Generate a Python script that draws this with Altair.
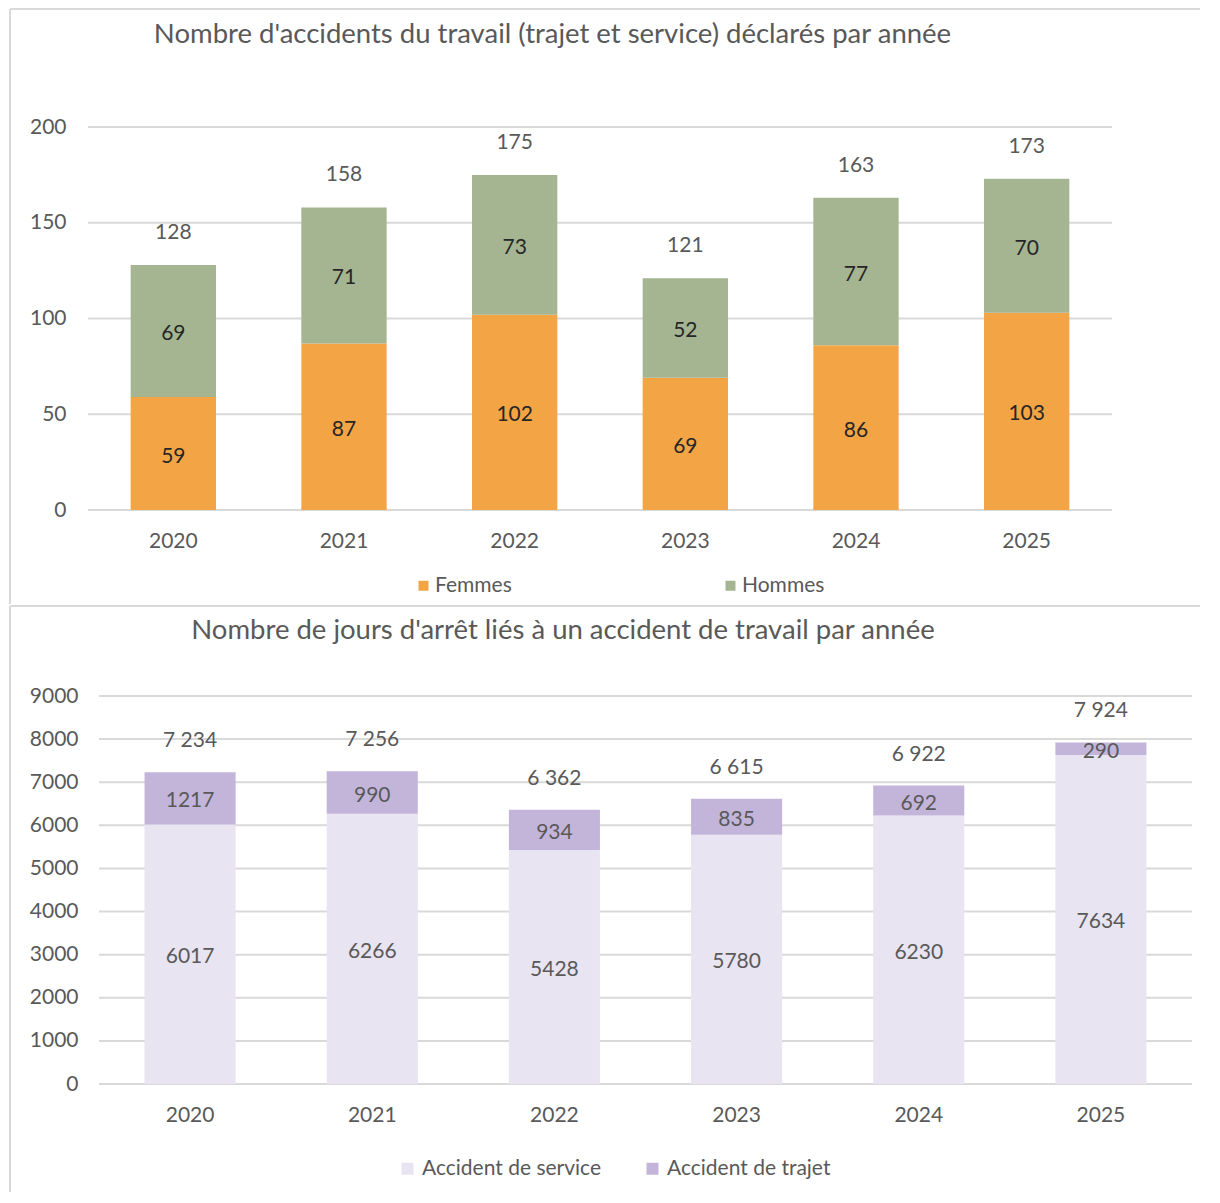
import altair as alt
import pandas as pd

YEARS = ["2020", "2021", "2022", "2023", "2024", "2025"]

# Chart 1: accidents du travail
SERIES1 = ["Femmes", "Hommes"]
FEMMES = [59, 87, 102, 69, 86, 103]
HOMMES = [69, 71, 73, 52, 77, 70]
TOTAL_ACC = [128, 158, 175, 121, 163, 173]
TOTAL_ACC_LABELS = ["128", "158", "175", "121", "163", "173"]
COLORS1 = ["#F3A445", "#A5B592"]
Y1_TICKS = [0, 50, 100, 150, 200]
TITLE1 = "Nombre d'accidents du travail (trajet et service) déclarés par année"

# Chart 2: jours d'arrêt
SERIES2 = ["Accident de service", "Accident de trajet"]
SERVICE = [6017, 6266, 5428, 5780, 6230, 7634]
TRAJET = [1217, 990, 934, 835, 692, 290]
TOTAL_JOURS = [7234, 7256, 6362, 6615, 6922, 7924]
TOTAL_JOURS_LABELS = ["7 234", "7 256", "6 362", "6 615", "6 922", "7 924"]
COLORS2 = ["#E8E4F1", "#C3B5DA"]
Y2_TICKS = [0, 1000, 2000, 3000, 4000, 5000, 6000, 7000, 8000, 9000]
TITLE2 = "Nombre de jours d'arrêt liés à un accident de travail par année"

FONT = "Lato"
GRAY = "#595959"
FRAME = "#D9D9D9"


def make_panel(series, vals_a, vals_b, totals, total_labels, colors, ticks, ymax,
               w, h, xrange, title, title_xy, inner_color, frame_lines, legend_xy,
               legend_gap, sym_size, lab_off, total_dy, lab_pad):
    rows = []
    for i, yr in enumerate(YEARS):
        a, b = vals_a[i], vals_b[i]
        rows.append(dict(year=yr, serie=series[0], lo=0, hi=a, mid=a / 2, lab=str(a)))
        rows.append(dict(year=yr, serie=series[1], lo=a, hi=a + b, mid=a + b / 2, lab=str(b)))
    df = pd.DataFrame(rows)
    tot = pd.DataFrame({"year": YEARS, "total": totals, "lab": total_labels})
    grid = pd.DataFrame({"v": ticks})

    xscale = alt.Scale(paddingInner=0.5, paddingOuter=0.25, range=xrange)
    xenc = alt.X("year:N", sort=YEARS, scale=xscale,
                 axis=alt.Axis(title=None, labelAngle=0, domain=False, ticks=False,
                               labelPadding=20, labelFont=FONT, labelFontSize=21,
                               labelColor=GRAY, grid=False))
    yscale = alt.Scale(domain=[0, ymax], nice=False, zero=True)
    yaxis = alt.Axis(title=None, values=ticks, format="d", domain=False, ticks=False,
                     labelPadding=lab_pad, labelFont=FONT, labelFontSize=21,
                     labelColor=GRAY, grid=False)

    gridlines = alt.Chart(grid).mark_rule(color=FRAME, strokeWidth=2).encode(
        y=alt.Y("v:Q", scale=yscale, axis=yaxis),
        x=alt.value(xrange[0]), x2=alt.value(xrange[1]))

    bars = alt.Chart(df).mark_bar().encode(
        x=xenc,
        y=alt.Y("lo:Q", scale=yscale),
        y2="hi:Q",
        color=alt.Color("serie:N", scale=alt.Scale(domain=series, range=colors),
                        legend=alt.Legend(title=None, orient="none",
                                          legendX=legend_xy[0], legendY=legend_xy[1],
                                          direction="horizontal", symbolType="square",
                                          symbolSize=sym_size, symbolStrokeWidth=0,
                                          labelFont=FONT, labelFontSize=21,
                                          labelColor=GRAY, labelLimit=400,
                                          labelOffset=lab_off, columnPadding=legend_gap,
                                          padding=0)),
    )
    inner = alt.Chart(df).mark_text(font=FONT, fontSize=21, color=inner_color,
                                    baseline="middle", dy=3).encode(
        x=alt.X("year:N", sort=YEARS, scale=xscale),
        y=alt.Y("mid:Q", scale=yscale), text="lab:N")
    tots = alt.Chart(tot).mark_text(font=FONT, fontSize=21, color=GRAY,
                                    baseline="middle", dy=total_dy).encode(
        x=alt.X("year:N", sort=YEARS, scale=xscale),
        y=alt.Y("total:Q", scale=yscale), text="lab:N")
    ttl = alt.Chart(pd.DataFrame({"t": [title]})).mark_text(
        font=FONT, fontSize=27.5, color=GRAY, align="center", baseline="middle").encode(
        x=alt.value(title_xy[0]), y=alt.value(title_xy[1]), text="t:N")

    frames = []
    for (x1, x2, y1, y2) in frame_lines:
        frames.append(alt.Chart(pd.DataFrame({"k": [0]})).mark_rule(
            color=FRAME, strokeWidth=2).encode(
            x=alt.value(x1), x2=alt.value(x2), y=alt.value(y1), y2=alt.value(y2)))

    return alt.layer(*frames, gridlines, bars, inner, tots, ttl).properties(width=w, height=h)


# Top panel: plot origin aligned with the bottom one; the band range starts 11px to the left
top = make_panel(SERIES1, FEMMES, HOMMES, TOTAL_ACC, TOTAL_ACC_LABELS, COLORS1,
                 Y1_TICKS, 200, 1013, 383, [-11, 1013], TITLE1, (453.5, -92), "#262626",
                 [(-89, 1101, -118, -118), (-89, -89, -118, 477)],
                 (314, 448), 208, 100, 1, -32, 33)
bottom = make_panel(SERIES2, SERVICE, TRAJET, TOTAL_JOURS, TOTAL_JOURS_LABELS, COLORS2,
                    Y2_TICKS, 9000, 1093, 388, [0, 1093], TITLE2, (464, -65), GRAY,
                    [(-89, 1101, -90, -90), (-89, -89, -90, 496)],
                    (298, 462), 40, 144, 4, -31, 21)

chart = alt.vconcat(top, bottom, spacing=0).resolve_scale(
    color="independent", x="independent", y="independent"
).resolve_legend(color="independent").properties(
    padding={"left": 1, "top": 0, "right": 0, "bottom": 0}
).configure_view(stroke=None)

chart.save("out.html", embed_options={"renderer": "svg", "actions": False})
